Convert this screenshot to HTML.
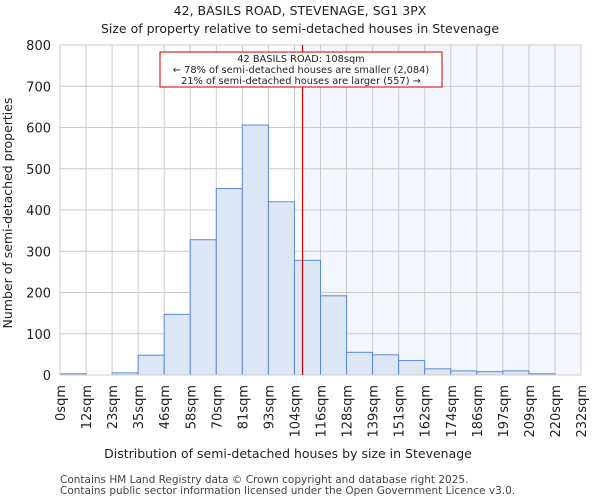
<!DOCTYPE html>
<html><head><meta charset="utf-8"><style>
body{margin:0;background:#fff;font-family:"DejaVu Sans","Liberation Sans",sans-serif}
svg text{font-family:"DejaVu Sans","Liberation Sans",sans-serif}
</style></head><body>
<svg id="chart" width="600" height="500">
<text x="300" y="15" text-anchor="middle" font-size="12.5" fill="#222">42, BASILS ROAD, STEVENAGE, SG1 3PX</text>
<text x="300" y="33" text-anchor="middle" font-size="12.5" fill="#222">Size of property relative to semi-detached houses in Stevenage</text>
<g id="plot"></g>
<text x="288" y="458" text-anchor="middle" font-size="12.5" fill="#222">Distribution of semi-detached houses by size in Stevenage</text>
<text transform="translate(12,213) rotate(-90)" text-anchor="middle" font-size="12.5" fill="#222">Number of semi-detached properties</text>
<text x="60" y="483" font-size="10.5" fill="#444">Contains HM Land Registry data © Crown copyright and database right 2025.</text>
<text x="60" y="494" font-size="10.5" fill="#444">Contains public sector information licensed under the Open Government Licence v3.0.</text>
</svg>
<script>
const binLabels=["0sqm","12sqm","23sqm","35sqm","46sqm","58sqm","70sqm","81sqm","93sqm","104sqm","116sqm","128sqm","139sqm","151sqm","162sqm","174sqm","186sqm","197sqm","209sqm","220sqm","232sqm"];
const counts=[3,0,5,48,147,328,452,606,420,278,192,55,49,35,15,10,8,10,3,0];
const yTicks=[0,100,200,300,400,500,600,700,800];
const subjectSize=108;
const binMax=232;
const X0=60,X1=581,Y0=375,Y1=45,YMAX=800;
const NS="http://www.w3.org/2000/svg";
const g=document.getElementById('plot');
const xb=i=>X0+(X1-X0)*i/counts.length;
const xv=v=>X0+(X1-X0)*v/binMax;
const y=v=>Y0-(Y0-Y1)*v/YMAX;
function mk(t,a){const e=document.createElementNS(NS,t);for(const k in a)e.setAttribute(k,a[k]);g.appendChild(e);return e;}
const sx=xv(subjectSize);
let bg=mk('rect',{x:sx,y:Y1,width:X1-sx,height:Y0-Y1,fill:'#f3f6fd'});


yTicks.forEach(t=>{
 let l=mk('line',{x1:X0,x2:X1,y1:y(t),y2:y(t),stroke:'#ccc','stroke-width':1});
 
 
 let tx=mk('text',{x:X0-9,y:y(t)+5,'text-anchor':'end','font-size':13,fill:'#222'});
 tx.textContent=t;
 
 
});
binLabels.forEach((s,i)=>{
 let l=mk('line',{x1:xb(i),x2:xb(i),y1:Y1,y2:Y0,stroke:'#ccc','stroke-width':1});
 
 
 let tx=mk('text',{transform:`translate(${xb(i)+5},385) rotate(-90)`,'text-anchor':'end','font-size':13,fill:'#222'});
 tx.textContent=s;
 
 
});
counts.forEach((c,i)=>{
 let r=mk('rect',{x:xb(i),y:y(c),width:xb(i+1)-xb(i),height:Y0-y(c),fill:'#dce6f5',stroke:'#5a8ad6','stroke-width':1});
 
 
});
let fr=mk('rect',{x:X0,y:Y1,width:X1-X0,height:Y0-Y1,fill:'none',stroke:'#ccc'});


let ml=mk('line',{x1:sx,x2:sx,y1:Y1,y2:Y0,stroke:'#c00','stroke-width':1.2});


let box=mk('rect',{x:160,y:52,width:282,height:35,fill:'#fff',stroke:'#c00','stroke-width':1});


[["42 BASILS ROAD: 108sqm",62],["← 78% of semi-detached houses are smaller (2,084)",73],["21% of semi-detached houses are larger (557) →",84]].forEach(([s,yy])=>{
 let t=mk('text',{x:301,y:yy,'text-anchor':'middle','font-size':9.8,fill:'#222'});
 t.textContent=s;
 
 
});
</script>
</body></html>
